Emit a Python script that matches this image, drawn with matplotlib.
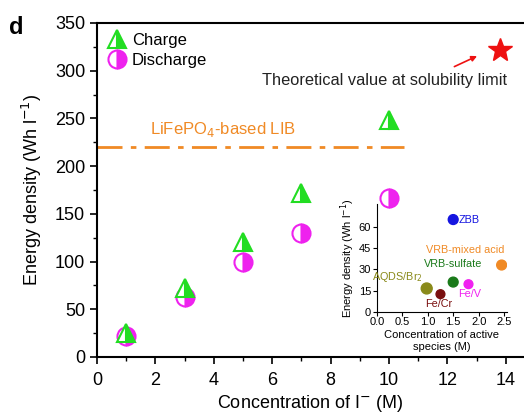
import matplotlib
matplotlib.use("Agg")
import matplotlib.pyplot as plt
from matplotlib.ticker import MultipleLocator

conc = [1, 3, 5, 7, 10]
charge = [25, 72, 120, 172, 248]
discharge = [22, 63, 100, 130, 167]
theory_x, theory_y = 13.8, 322
lib_value = 220

inset_names = ["ZBB", "VRB-mixed acid", "VRB-sulfate", "AQDS/Br$_2$", "Fe/Cr", "Fe/V"]
inset_x = [1.5, 2.45, 1.5, 0.98, 1.25, 1.8]
inset_y = [65, 33, 21, 16.5, 12.5, 19.5]
inset_colors = ["#1515e0", "#f08a25", "#1a7a1a", "#8a8a1a", "#7a0f0f", "#f020f0"]
inset_sizes = [50, 50, 50, 62, 40, 40]

plt.rcParams['font.family'] = ['Liberation Sans', 'DejaVu Sans']

fig = plt.figure(figsize=(5.24, 4.17), dpi=100)
ax = fig.add_axes([0.185, 0.144, 0.815, 0.801])

ax.plot(conc, charge, linestyle='none', marker='^', markersize=13, fillstyle='right',
        color='#22dd22', markerfacecoloralt='white', markeredgecolor='#22dd22',
        markeredgewidth=1.5, label='Charge', zorder=4)
ax.plot(conc, discharge, linestyle='none', marker='o', markersize=13, fillstyle='right',
        color='#ee22ee', markerfacecoloralt='white', markeredgecolor='#ee22ee',
        markeredgewidth=1.5, label='Discharge', zorder=3)
ax.plot([theory_x], [theory_y], linestyle='none', marker='*', markersize=18,
        color='#ee1111', zorder=4)
ax.plot([0, 10.5], [lib_value, lib_value], color='#f08a25', lw=2,
        linestyle=(0, (9, 3, 2, 3)))
ax.text(1.8, 228, "LiFePO$_4$-based LIB", color='#f08a25', fontsize=12, va='bottom')
ax.text(9.85, 290, "Theoretical value at solubility limit", fontsize=11.8,
        ha='center', va='center', color='#222222')
ax.annotate("", xy=(13.1, 316.5), xytext=(12.15, 303),
            arrowprops=dict(arrowstyle='-|>', color='#ee1111', lw=1.2, mutation_scale=8))

ax.set_xlim(0, 14.62)
ax.set_ylim(0, 350)
ax.xaxis.set_major_locator(MultipleLocator(2))
ax.xaxis.set_minor_locator(MultipleLocator(1))
ax.yaxis.set_major_locator(MultipleLocator(50))
ax.yaxis.set_minor_locator(MultipleLocator(25))
ax.tick_params(axis='both', which='major', labelsize=13, direction='out', length=5, width=1.2)
ax.tick_params(axis='x', which='major', pad=6)
ax.tick_params(axis='both', which='minor', direction='out', length=3, width=1)
for s in ['left', 'bottom', 'top']:
    ax.spines[s].set_linewidth(1.5)
ax.spines['right'].set_visible(False)
ax.set_xlabel("Concentration of I$^{-}$ (M)", fontsize=13, labelpad=3)
ax.set_ylabel("Energy density (Wh l$^{-1}$)", fontsize=13, labelpad=8)
leg = ax.legend(loc='upper left', frameon=False, fontsize=12, handletextpad=0.3,
                borderaxespad=0.2, handlelength=1.2, labelspacing=0.3)
fig.text(0.018, 0.935, "d", fontsize=17, fontweight='bold', va='center')

ins = fig.add_axes([0.719, 0.252, 0.248, 0.259])
ins.scatter(inset_x, inset_y, s=inset_sizes, c=inset_colors, zorder=3)
ins.set_xlim(0, 2.55)
ins.set_ylim(0, 76)
ins.set_xticks([0, 0.5, 1.0, 1.5, 2.0, 2.5])
ins.set_yticks([0, 15, 30, 45, 60])
ins.tick_params(labelsize=8, length=3, pad=1)
ins.spines['top'].set_visible(False)
ins.spines['right'].set_visible(False)
ins.set_xlabel("Concentration of active\nspecies (M)", fontsize=8, labelpad=2)
ins.set_ylabel("Energy density (Wh l$^{-1}$)", fontsize=8, labelpad=1)
ins.patch.set_alpha(0)
label_pos = {"ZBB": (1.6, 65, 'left'), "VRB-mixed acid": (2.5, 43.7, 'right'),
             "VRB-sulfate": (0.93, 33.8, 'left'), "AQDS/Br$_2$": (0.9, 24.6, 'right'),
             "Fe/Cr": (1.22, 5.6, 'center'), "Fe/V": (1.83, 12.7, 'center')}
for n, c in zip(inset_names, inset_colors):
    tx, ty, ha = label_pos[n]
    ins.text(tx, ty, n, color=c, fontsize=7.8, ha=ha, va='center')

fig.savefig("out.png", dpi=100)
